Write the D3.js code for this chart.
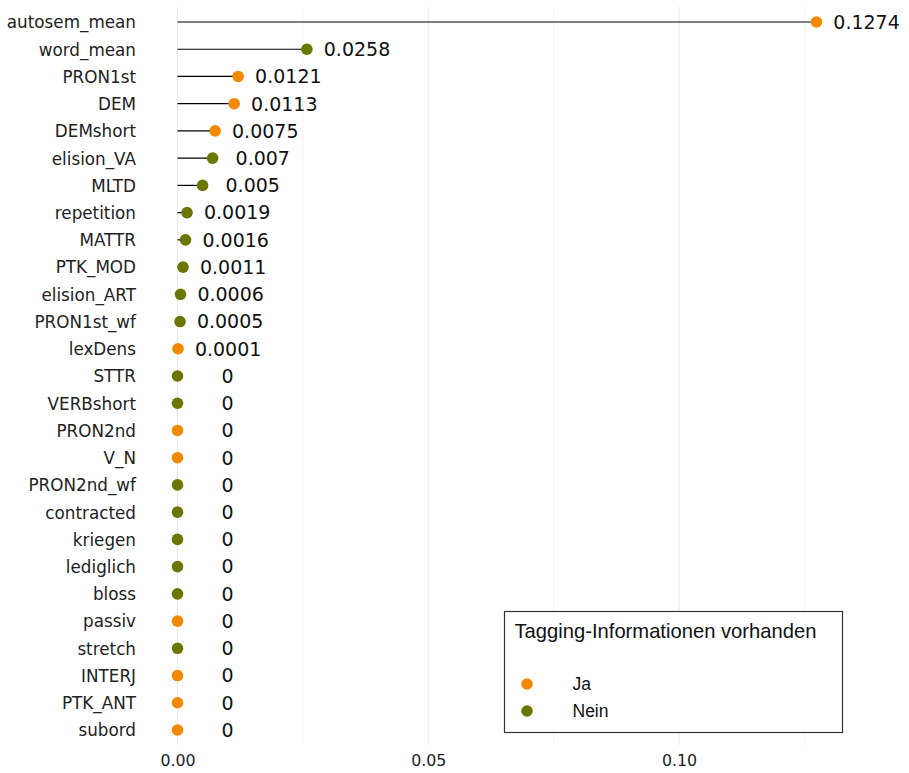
<!DOCTYPE html>
<html>
<head>
<meta charset="utf-8">
<script src="https://cdn.jsdelivr.net/npm/d3@7"></script>
<style>
  html, body { margin: 0; padding: 0; background: #fff; }
  svg { display: block; }
</style>
</head>
<body>
<svg id="chart" width="909" height="773"></svg>
<script>
// ---- data ----
const categories = ["autosem_mean","word_mean","PRON1st","DEM","DEMshort","elision_VA","MLTD","repetition","MATTR","PTK_MOD","elision_ART","PRON1st_wf","lexDens","STTR","VERBshort","PRON2nd","V_N","PRON2nd_wf","contracted","kriegen","lediglich","bloss","passiv","stretch","INTERJ","PTK_ANT","subord"];
const values = [0.1274,0.0258,0.0121,0.0113,0.0075,0.007,0.005,0.0019,0.0016,0.0011,0.0006,0.0005,0.0001,0,0,0,0,0,0,0,0,0,0,0,0,0,0];
const tagged = ["Ja","Nein","Ja","Ja","Ja","Nein","Nein","Nein","Nein","Nein","Nein","Nein","Ja","Nein","Nein","Ja","Ja","Nein","Nein","Nein","Nein","Nein","Ja","Nein","Ja","Ja","Ja"];
const legendGroups = ["Ja","Nein"];
const legendTitle = "Tagging-Informationen vorhanden";
const xTicks = [0, 0.05, 0.10];
const xMinor = [0.025, 0.075, 0.125];

const rows = categories.map((c, i) => ({cat: c, val: values[i], tag: tagged[i]}));

const svg = d3.select("#chart");
const x = d3.scaleLinear().domain([0, 0.1]).range([177.5, 679]);
const y = d3.scalePoint().domain(categories).range([22, 730]);
const color = d3.scaleOrdinal().domain(legendGroups).range(["#F28900", "#6B7600"]);

const gridTop = 7, gridBottom = 745;
const numFont = "DejaVu Sans";

// grid
svg.append("g").selectAll("line.minor").data(xMinor).join("line")
  .attr("x1", d => x(d)).attr("x2", d => x(d))
  .attr("y1", gridTop).attr("y2", gridBottom)
  .attr("stroke", "#ededed").attr("stroke-width", 0.6);
svg.append("g").selectAll("line.major").data(xTicks).join("line")
  .attr("x1", d => x(d)).attr("x2", d => x(d))
  .attr("y1", gridTop).attr("y2", gridBottom)
  .attr("stroke", "#ebebeb").attr("stroke-width", 1.1);

// x axis
const xAxis = d3.axisBottom(x).tickValues(xTicks).tickFormat(d3.format(".2f")).tickSize(0).tickPadding(0);
const gx = svg.append("g").attr("transform", `translate(0,${gridBottom})`).call(xAxis);
gx.select(".domain").remove();
gx.selectAll("text").attr("dy", null).attr("y", 21)
  .attr("font-family", numFont).attr("font-size", 15.8).attr("fill", "#222");

// y axis
const yAxis = d3.axisLeft(y).tickSize(0).tickPadding(0);
const gy = svg.append("g").attr("transform", `translate(136,0)`).call(yAxis);
gy.select(".domain").remove();
gy.selectAll("text").attr("x", 0).attr("dy", "0.35em")
  .attr("font-family", numFont).attr("font-size", 16.8).attr("fill", "#222");

// segments
svg.append("g").selectAll("line").data(rows).join("line")
  .attr("x1", x(0)).attr("x2", d => x(d.val))
  .attr("y1", d => y(d.cat)).attr("y2", d => y(d.cat))
  .attr("stroke", "#000").attr("stroke-width", 1.2);

// points
svg.append("g").selectAll("circle").data(rows).join("circle")
  .attr("cx", d => x(d.val)).attr("cy", d => y(d.cat)).attr("r", 5.8)
  .attr("fill", d => color(d.tag));

// value labels
svg.append("g").selectAll("text").data(rows).join("text")
  .attr("x", d => x(d.val + 0.01)).attr("y", d => y(d.cat))
  .attr("dy", "0.36em").attr("text-anchor", "middle")
  .attr("font-family", numFont).attr("font-size", 19).attr("fill", "#111")
  .text(d => String(d.val));

// legend
const lg = svg.append("g").attr("transform", "translate(504.5,611.5)");
lg.append("rect").attr("width", 338).attr("height", 121)
  .attr("fill", "#fff").attr("stroke", "#333").attr("stroke-width", 1.2);
lg.append("text").attr("x", 10).attr("y", 26)
  .attr("font-family", "Liberation Sans").attr("font-size", 20.2).attr("fill", "#111")
  .text(legendTitle);
const li = lg.selectAll("g.item").data(legendGroups).join("g")
  .attr("transform", (d, i) => `translate(0,${72.5 + i * 27})`);
li.append("circle").attr("cx", 22.5).attr("cy", 0).attr("r", 5.8).attr("fill", d => color(d));
li.append("text").attr("x", 68).attr("y", 0).attr("dy", "0.36em")
  .attr("font-family", "Liberation Sans").attr("font-size", 17.5).attr("fill", "#111")
  .text(d => d);
</script>
</body>
</html>
